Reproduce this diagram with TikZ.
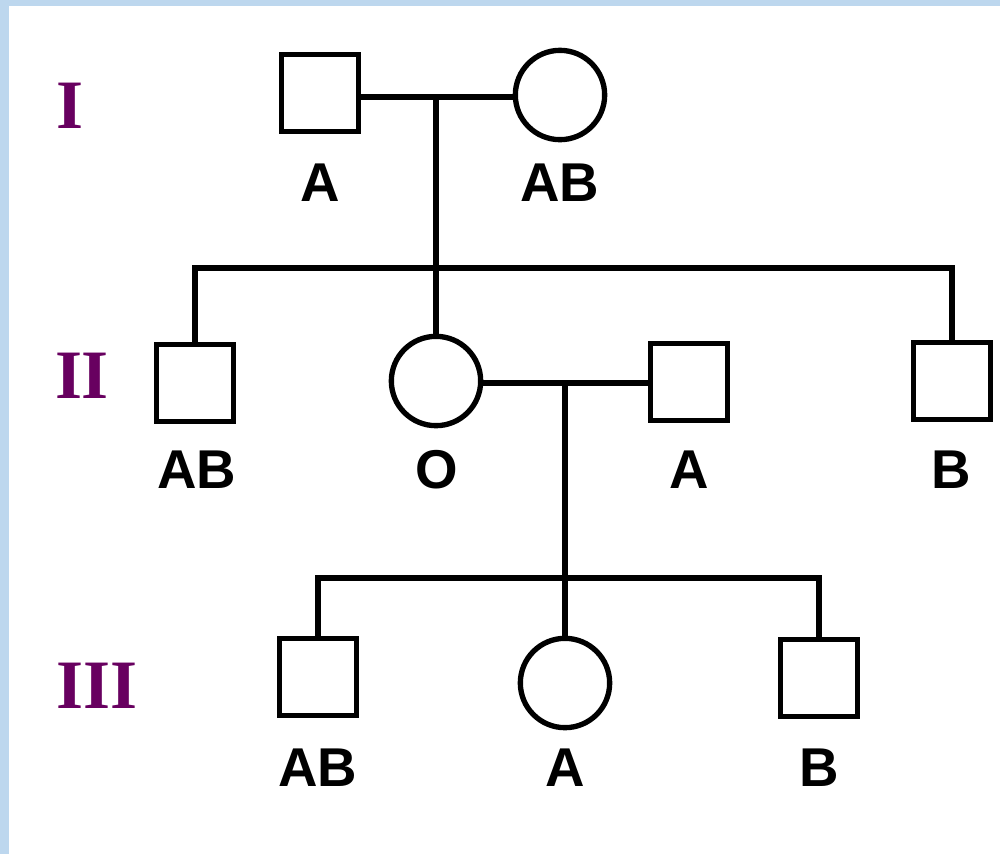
\documentclass[tikz,border=0pt]{standalone}
\usepackage{fontspec}
\setmainfont{Liberation Serif}
\setsansfont{Liberation Sans}
\definecolor{framebl}{RGB}{189,215,238}
\definecolor{genpurple}{RGB}{104,0,96}
\begin{document}
\begin{tikzpicture}[x=0.75pt,y=-0.75pt,
  male/.style={draw=black,line width=4pt,rectangle,minimum size=57.5pt,inner sep=0pt,fill=white},
  female/.style={draw=black,line width=4pt,circle,minimum size=67pt,inner sep=0pt,fill=white},
  link/.style={draw=black,line width=4pt,line join=miter},
  btype/.style={font=\sffamily\bfseries\fontsize{41}{44}\selectfont,inner sep=0pt},
  gen/.style={font=\rmfamily\bfseries\fontsize{52}{56}\selectfont,text=genpurple,inner sep=0pt}]
\useasboundingbox (0,0) rectangle (1000,854);
\fill[framebl] (0,0) rectangle (1000,854);
\fill[white] (9,6) rectangle (1000,854);
% generation labels
\node[gen] (gI) at (70,106) {I};
\node[gen] (gII) at (82,376) {II};
\node[gen] (gIII) at (97,686) {III};
% connector coordinates
\coordinate (m1) at (436,97);
\coordinate (s1) at (436,268);
\coordinate (s1l) at (195,268);
\coordinate (s1r) at (952,268);
\coordinate (m2) at (565,383);
\coordinate (s2) at (565,578);
\coordinate (s2l) at (318,578);
\coordinate (s2r) at (819,578);
% generation I
\node[male] (i1) at (320,93) {};
\node[female] (i2) at (560,95) {};
% generation II
\node[male] (ii1) at (195,383) {};
\node[female] (ii2) at (436,381) {};
\node[male] (ii3) at (689,382) {};
\node[male] (ii4) at (952,381) {};
% generation III
\node[male] (iii1) at (318,677) {};
\node[female] (iii2) at (565,683) {};
\node[male] (iii3) at (819,678) {};
% connectors
\draw[link] (i1.east |- m1) -- (m1) -- (m1 -| i2.west);
\draw[link] (m1) -- (s1);
\draw[link] (ii1.north) -- (s1l) -- (s1r) -- (ii4.north);
\draw[link] (s1) -- (ii2.north);
\draw[link] (ii2.east |- m2) -- (m2) -- (m2 -| ii3.west);
\draw[link] (m2) -- (s2);
\draw[link] (iii1.north) -- (s2l) -- (s2r) -- (iii3.north);
\draw[link] (s2) -- (iii2.north);
% blood type labels
\node[btype] (li1) at (320,183) {A};
\node[btype] (li2) at (560,183) {AB};
\node[btype] (lii1) at (197,470) {AB};
\node[btype] (lii2) at (437,470) {O};
\node[btype] (lii3) at (689,470) {A};
\node[btype] (lii4) at (951,470) {B};
\node[btype] (liii1) at (318,768) {AB};
\node[btype] (liii2) at (565,768) {A};
\node[btype] (liii3) at (819,768) {B};
\end{tikzpicture}
\end{document}
